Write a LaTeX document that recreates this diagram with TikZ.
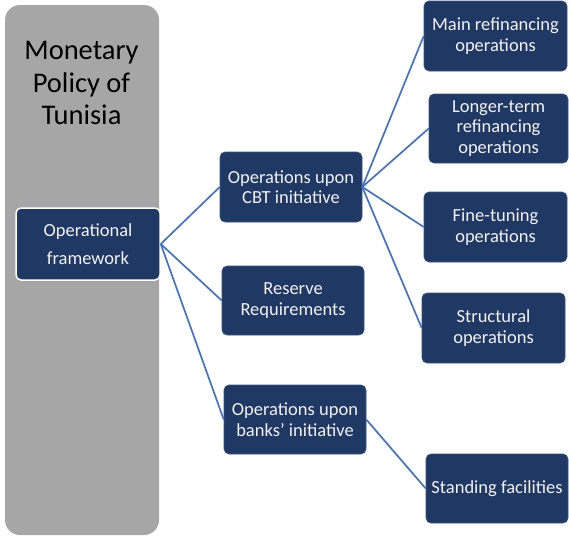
\documentclass[tikz,border=0pt]{standalone}
\usepackage{fontspec}
\setmainfont{Carlito}
\definecolor{navy}{HTML}{1F3864}
\definecolor{navyedge}{HTML}{3A5284}
\definecolor{linkblue}{HTML}{4472C4}
\definecolor{panelgray}{HTML}{A6A6A6}
\definecolor{boxtext}{HTML}{F2F2F2}
\begin{document}
\begin{tikzpicture}[x=1pt,y=-1pt,
  opbox/.style={rectangle, rounded corners=5pt, fill=navy, draw=navyedge, line width=0.6pt,
    text=boxtext, align=center, inner sep=0pt,
    font=\fontsize{18.5}{20.5}\selectfont},
  link/.style={draw=linkblue, line width=1.7pt},
  panel/.style={rectangle, rounded corners=15pt, fill=panelgray, draw=none, inner sep=0pt}]
\useasboundingbox (0,0) rectangle (569,536);
% left panel
\node[panel, minimum width=154pt, minimum height=530pt] (mp) at (82,270) {};
\node[align=center, inner sep=0pt, font=\fontsize{28.5}{32.5}\selectfont, text=black] (title) at (81.5,83) {Monetary\\Policy of\\Tunisia};
% boxes
\node[opbox, draw=white, line width=1.5pt, minimum width=144pt, minimum height=72pt,
  font=\fontsize{18.5}{28}\selectfont] (of) at (88,244) {Operational\\framework};
\node[opbox, minimum width=142pt, minimum height=70pt] (cbt) at (291,187) {Operations upon\\CBT initiative};
\node[opbox, minimum width=142pt, minimum height=69pt] (rr) at (293,300.5) {Reserve\\Requirements};
\node[opbox, minimum width=142pt, minimum height=69pt] (banks) at (295,419.5) {Operations upon\\banks\symbol{39} initiative};
\node[opbox, minimum width=143pt, minimum height=70pt] (mro) at (495.5,36) {Main refinancing\\operations};
\node[opbox, minimum width=139pt, minimum height=69pt] (lto) at (498.5,128.5) {Longer-term\\refinancing\\operations};
\node[opbox, minimum width=143pt, minimum height=70pt] (ft) at (495.5,227) {Fine-tuning\\operations};
\node[opbox, minimum width=143pt, minimum height=70pt] (so) at (493.5,328) {Structural\\operations};
\node[opbox, minimum width=142pt, minimum height=69pt] (sf) at (497,488.5) {Standing facilities};
% connectors
\draw[link] (of.east) -- (cbt.west);
\draw[link] (of.east) -- (rr.west);
\draw[link] (of.east) -- (banks.west);
\draw[link] (cbt.east) -- (mro.west);
\draw[link] (cbt.east) -- (lto.west);
\draw[link] (cbt.east) -- (ft.west);
\draw[link] (cbt.east) -- (so.west);
\draw[link] (banks.east) -- (sf.west);
\end{tikzpicture}
\end{document}
